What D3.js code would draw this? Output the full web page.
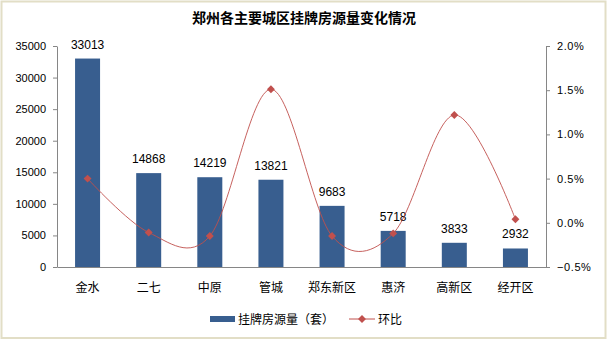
<!DOCTYPE html>
<html><head><meta charset="utf-8">
<script src="https://cdn.jsdelivr.net/npm/d3@7"></script>
<style>
html,body{margin:0;padding:0;background:#fff;}
svg{display:block;}
</style></head>
<body>
<svg id="chart" width="608" height="340"></svg>
<script>
const categories = ["金水","二七","中原","管城","郑东新区","惠济","高新区","经开区"];
const listings = [33013,14868,14219,13821,9683,5718,3833,2932];
const momChange = [0.50,-0.11,-0.15,1.51,-0.15,-0.12,1.22,0.04];
const leftTicks = [0,5000,10000,15000,20000,25000,30000,35000];
const rightTicks = [-0.5,0,0.5,1.0,1.5,2.0];
const title = "郑州各主要城区挂牌房源量变化情况";
const seriesNames = ["挂牌房源量（套）","环比"];

const svg = d3.select("#chart");
const W = 608, H = 340;
const m = {l:57, r:62, t:46, b:73};
const x0 = m.l, x1 = W - m.r, y0 = H - m.b, y1 = m.t;
const barColor = "#385E8F", lineColor = "#C0504D", axisColor = "#868686";
const fontLatin = "Arial, 'Liberation Sans', sans-serif";
const fontCJK = "'Noto Sans CJK SC', sans-serif";

// border
svg.append("rect").attr("x",1.5).attr("y",1.5).attr("width",W-4).attr("height",H-3.5)
  .attr("fill","none").attr("stroke","#E2DEC6").attr("stroke-width",2);

svg.append("text").attr("x",304).attr("y",23).attr("text-anchor","middle")
  .attr("font-family",fontCJK).attr("font-weight","bold").attr("font-size",14).attr("fill","#000")
  .text(title);

const x = d3.scaleBand().domain(categories).range([x0,x1]).paddingInner(0).paddingOuter(0);
const yL = d3.scaleLinear().domain([0,35000]).range([y0,y1]);
const yR = d3.scaleLinear().domain([-0.5,2.0]).range([y0,y1]);

// left axis
const gL = svg.append("g").attr("transform",`translate(${x0},0)`)
  .call(d3.axisLeft(yL).tickValues(leftTicks).tickSize(4).tickSizeOuter(0).tickFormat(d3.format("d")));
gL.select(".domain").attr("stroke",axisColor);
gL.selectAll(".tick line").attr("stroke",axisColor);
gL.selectAll(".tick text").attr("x",-11).attr("font-family",fontLatin).attr("font-size",11).attr("fill","#000");

// right axis
const gR = svg.append("g").attr("transform",`translate(${x1},0)`)
  .call(d3.axisRight(yR).tickValues(rightTicks).tickSize(4).tickSizeOuter(0).tickFormat(d=>d3.format(".1f")(d)+"%"));
gR.select(".domain").attr("stroke",axisColor);
gR.selectAll(".tick line").attr("stroke",axisColor);
gR.selectAll(".tick text").attr("x",11).attr("font-family",fontLatin).attr("font-size",11).attr("fill","#000")
  .attr("letter-spacing","0.6px");

// bottom axis
const gB = svg.append("g").attr("transform",`translate(0,${y0})`)
  .call(d3.axisBottom(x).tickSize(0).tickSizeOuter(0));
gB.select(".domain").attr("stroke",axisColor);
gB.selectAll(".tick text").attr("dy",0).attr("y",25).attr("font-family",fontCJK).attr("font-size",12).attr("fill","#000");

// bars
const bw = 25;
svg.append("g").selectAll("rect").data(listings).join("rect")
  .attr("x",(d,i)=>x(categories[i])+x.bandwidth()/2-bw/2)
  .attr("y",d=>yL(d)).attr("width",bw).attr("height",d=>y0-yL(d))
  .attr("fill",barColor);

svg.append("g").selectAll("text").data(listings).join("text")
  .attr("x",(d,i)=>x(categories[i])+x.bandwidth()/2)
  .attr("y",d=>yL(d)-10).attr("text-anchor","middle")
  .attr("font-family",fontLatin).attr("font-size",12).attr("fill","#000")
  .text(d=>d);

// line
const pts = momChange.map((v,i)=>[x(categories[i])+x.bandwidth()/2, yR(v)]);
svg.append("path").attr("d",d3.line().curve(d3.curveCardinal.tension(0))(pts))
  .attr("fill","none").attr("stroke",lineColor).attr("stroke-width",1).attr("stroke-opacity",0.9);
const diamond = d3.symbol().type(d3.symbolDiamond2).size(40);
svg.append("g").selectAll("path").data(pts).join("path")
  .attr("transform",d=>`translate(${d[0]},${d[1]})`).attr("d",diamond()).attr("fill",lineColor);

// legend
const lg = svg.append("g");
lg.append("rect").attr("x",210).attr("y",316).attr("width",25).attr("height",6).attr("fill",barColor);
lg.append("text").attr("x",238).attr("y",324).attr("font-family",fontCJK).attr("font-size",12).attr("fill","#000").text(seriesNames[0]);
lg.append("line").attr("x1",349).attr("x2",375).attr("y1",319).attr("y2",319).attr("stroke",lineColor).attr("stroke-width",1);
lg.append("path").attr("transform","translate(362,319)").attr("d",diamond()).attr("fill",lineColor);
lg.append("text").attr("x",378).attr("y",324).attr("font-family",fontCJK).attr("font-size",12).attr("fill","#000").text(seriesNames[1]);
</script>
</body></html>
